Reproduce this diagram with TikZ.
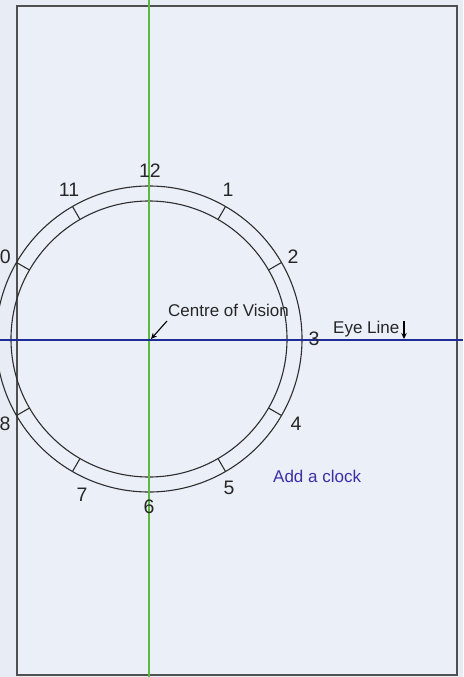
\documentclass[tikz,border=0pt]{standalone}
\usepackage{fontspec}
\setmainfont{Liberation Sans}
\usetikzlibrary{arrows.meta,calc}
\definecolor{bgc}{HTML}{E8EDF5}
\definecolor{pagec}{HTML}{EBF0F8}
\definecolor{greenl}{HTML}{5DB83B}
\definecolor{bluel}{HTML}{1F2C98}
\definecolor{clockc}{HTML}{3B2FA6}
\definecolor{framec}{HTML}{505050}
\definecolor{ringc}{HTML}{2E2E2E}
\tikzset{
  ring/.style={draw=ringc, line width=1.1pt},
  tick/.style={draw=ringc, line width=1.1pt},
  num/.style={inner sep=0pt, font=\fontsize{19.5}{22}\selectfont, text=black!85},
  lbl/.style={inner sep=0pt, anchor=base west, font=\fontsize{17}{20}\selectfont, text=black!85},
  pointer/.style={draw=black, line width=1.1pt, -{Stealth[length=6pt,width=5.5pt]}}
}
\begin{document}
\begin{tikzpicture}[x=1pt,y=-1pt]
\clip (0,0) rectangle (463,677);
\fill[bgc] (0,0) rectangle (463,677);
\draw[framec, fill=pagec, line width=1.4pt] (17,6) rectangle (457,675);
\coordinate (c) at (149,339);
% clock rings
\draw[ring] (c) circle[radius=153pt];
\draw[ring] (c) circle[radius=138pt];
\foreach \a in {-60,-30,30,60,120,150,210,240}
  \draw[tick] ($(c)+(\a:138)$) -- ($(c)+(\a:153)$);
% axis lines
\coordinate (gtop) at (149,0);
\coordinate (gbot) at (149,677);
\coordinate (bl) at (0,340);
\coordinate (br) at (463,340);
\draw[greenl, line width=1.8pt] (gtop) -- (gbot);
\draw[bluel, line width=1.8pt] (bl) -- (br);
% numbers
\node[num] (n12) at (150,171) {12};
\node[num] (n1) at (228,190) {1};
\node[num] (n2) at (293,257) {2};
\node[num] (n3) at (314,339) {3};
\node[num] (n4) at (296,424) {4};
\node[num] (n5) at (229,488) {5};
\node[num] (n6) at (149,507) {6};
\node[num] (n7) at (82,495) {7};
\node[num] (n8) at (5,424) {8};
\node[num] (n10) at (0,257) {10};
\node[num] (n11) at (69,190) {11};
% labels
\node[lbl] (cv) at (168,316) {Centre of Vision};
\node[lbl] (eye) at (333,333) {Eye Line};
\node[lbl, text=clockc] (clock) at (273,482) {Add a clock};
% pointers
\coordinate (cvs) at (167,321);
\coordinate (cvt) at (151,339);
\draw[pointer] (cvs) -- (cvt);
\coordinate (eys) at (404,321);
\coordinate (eyt) at (404,339);
\draw[pointer] (eys) -- (eyt);
\end{tikzpicture}
\end{document}
